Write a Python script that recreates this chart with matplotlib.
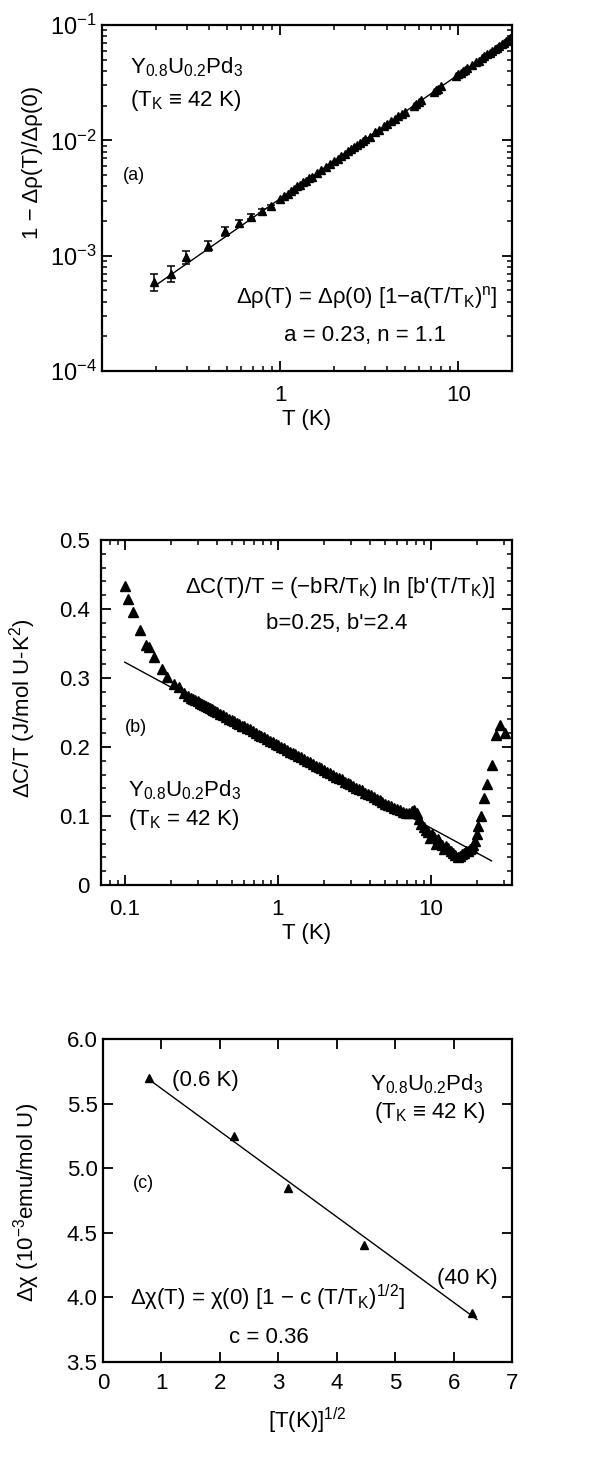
import matplotlib
matplotlib.use('Agg')
import matplotlib.pyplot as plt
from matplotlib.ticker import FixedLocator, LogLocator, NullFormatter, MultipleLocator

plt.rcParams['font.family'] = ['Liberation Sans', 'DejaVu Sans']
plt.rcParams['mathtext.fontset'] = 'custom'
plt.rcParams['mathtext.rm'] = 'Liberation Sans'
plt.rcParams['mathtext.it'] = 'Liberation Sans:italic'
plt.rcParams['mathtext.bf'] = 'Liberation Sans:bold'
plt.rcParams['mathtext.default'] = 'regular'

# ---- (a) resistivity, low T points with error bars
Ta_err = [0.196, 0.245, 0.297, 0.394, 0.493, 0.59, 0.69, 0.79, 0.886]
ya_err = [5.9e-4, 7.0e-4, 9.7e-4, 1.22e-3, 1.63e-3, 1.91e-3, 2.18e-3, 2.43e-3, 2.68e-3]
ea_err = [1.0e-4, 1.1e-4, 1.3e-4, 1.3e-4, 1.4e-4, 1.2e-4, 1.1e-4, 1.0e-4, 1.0e-4]

# (a) dense data 1 - 20 K
Ta = [1.0, 1.05, 1.1, 1.15, 1.2, 1.25, 1.3, 1.35, 1.4, 1.45, 1.5, 1.6, 1.7,
      1.8, 1.9, 2.0, 2.1, 2.2, 2.3, 2.4, 2.5, 2.6, 2.7, 2.8, 2.9, 3.0, 3.2,
      3.4, 3.6, 3.8, 4.0, 4.2, 4.4, 4.6, 4.8, 5.0, 5.6, 5.8, 6.0, 6.2, 7.3,
      7.5, 7.7, 8.0, 9.7, 10.0, 10.3, 10.6, 10.9, 11.2, 12.0, 12.5, 13.0,
      13.5, 14.0, 14.5, 15.0, 15.5, 16.0, 16.5, 17.0, 17.5, 18.0, 18.5, 19.0,
      19.5, 20.0]
ya = [3.10e-3, 3.32e-3, 3.45e-3, 3.66e-3, 3.80e-3, 3.99e-3, 4.12e-3, 4.35e-3,
      4.48e-3, 4.70e-3, 4.82e-3, 5.22e-3, 5.50e-3, 5.93e-3, 6.20e-3, 6.63e-3,
      6.90e-3, 7.35e-3, 7.62e-3, 8.05e-3, 8.35e-3, 8.80e-3, 9.05e-3, 9.52e-3,
      9.80e-3, 1.03e-2, 1.08e-2, 1.18e-2, 1.23e-2, 1.33e-2, 1.38e-2, 1.48e-2,
      1.53e-2, 1.63e-2, 1.68e-2, 1.78e-2, 1.99e-2, 2.08e-2, 2.14e-2, 2.24e-2,
      2.64e-2, 2.74e-2, 2.80e-2, 2.94e-2, 3.60e-2, 3.73e-2, 3.84e-2, 3.98e-2,
      4.08e-2, 4.22e-2, 4.52e-2, 4.75e-2, 4.93e-2, 5.15e-2, 5.34e-2, 5.57e-2,
      5.75e-2, 5.98e-2, 6.16e-2, 6.39e-2, 6.58e-2, 6.82e-2, 7.00e-2, 7.24e-2,
      7.42e-2, 7.65e-2, 7.84e-2]
fit_a_T = [0.198, 20.2]
fit_a_y = [5.48e-4, 7.92e-2]

# ---- (b) specific heat
Tb = [0.100, 0.105, 0.113, 0.126, 0.137, 0.144, 0.156, 0.174, 0.190, 0.210,
      0.226, 0.244, 0.26, 0.27, 0.28, 0.29, 0.30, 0.31, 0.32, 0.33, 0.34,
      0.35, 0.36, 0.37, 0.38, 0.39, 0.40, 0.42, 0.44, 0.46, 0.48, 0.50, 0.52,
      0.54, 0.56, 0.58, 0.60, 0.63, 0.66, 0.69, 0.72, 0.75, 0.78, 0.81, 0.85,
      0.89, 0.93, 0.97, 1.01, 1.05, 1.10, 1.15, 1.20, 1.25, 1.30, 1.36, 1.42,
      1.48, 1.55, 1.62, 1.69, 1.77, 1.85, 1.93, 2.02, 2.11, 2.20, 2.30, 2.40,
      2.51, 2.62, 2.74, 2.86, 2.99, 3.12, 3.26, 3.41, 3.56, 3.72, 3.89, 4.06,
      4.24, 4.43, 4.63, 4.84, 5.06, 5.29, 5.53, 5.78, 6.04, 6.31, 6.59, 6.89,
      7.20, 7.50, 7.80, 8.10, 8.40, 8.70, 9.00, 9.30, 9.60, 9.90, 10.2, 10.5,
      10.8, 11.1, 11.4, 11.8, 12.2, 12.6, 13.0, 13.5, 14.0, 14.5, 15.0, 15.5,
      16.0, 16.5, 17.0, 17.5, 18.0, 18.5, 19.0, 19.5, 20.0, 20.5, 21.2, 22.3,
      23.5, 25.0, 26.6, 28.5, 30.8]
yb = [0.434, 0.414, 0.395, 0.369, 0.348, 0.345, 0.330, 0.313, 0.302, 0.291,
      0.287, 0.278, 0.274, 0.271, 0.269, 0.268, 0.266, 0.264, 0.262, 0.261,
      0.259, 0.258, 0.256, 0.255, 0.253, 0.252, 0.251, 0.248, 0.246, 0.244,
      0.241, 0.239, 0.237, 0.235, 0.233, 0.231, 0.230, 0.228, 0.226, 0.223,
      0.220, 0.218, 0.216, 0.214, 0.211, 0.209, 0.207, 0.205, 0.203, 0.200,
      0.198, 0.196, 0.193, 0.191, 0.190, 0.187, 0.185, 0.183, 0.180, 0.178,
      0.175, 0.173, 0.171, 0.169, 0.166, 0.164, 0.162, 0.159, 0.157, 0.155,
      0.153, 0.150, 0.148, 0.146, 0.144, 0.141, 0.139, 0.137, 0.134, 0.132,
      0.130, 0.128, 0.125, 0.123, 0.121, 0.118, 0.116, 0.114, 0.112, 0.110,
      0.108, 0.106, 0.105, 0.105, 0.107, 0.109, 0.104, 0.096, 0.089, 0.084,
      0.080, 0.077, 0.068, 0.074, 0.070, 0.060, 0.066, 0.062, 0.058, 0.052,
      0.056, 0.053, 0.049, 0.047, 0.043, 0.040, 0.042, 0.045, 0.047, 0.049,
      0.050, 0.052, 0.054, 0.058, 0.064, 0.074, 0.086, 0.100, 0.126, 0.147,
      0.174, 0.217, 0.232, 0.220]
fit_b_T = [0.1, 25.0]
fit_b_y = [0.323, 0.035]

# ---- (c) susceptibility vs sqrt(T)
sqrtT_c = [0.78, 2.24, 3.16, 4.47, 6.32]
chi_c = [5.70, 5.25, 4.85, 4.41, 3.88]
fit_c_x = [0.78, 6.40]
fit_c_y = [5.69, 3.83]

FS = 16


def style_axes(ax):
    for sp in ax.spines.values():
        sp.set_linewidth(1.6)
    ax.tick_params(which='both', direction='in', top=True, right=True,
                   labelsize=FS)
    ax.tick_params(which='major', length=7, width=1.3)
    ax.tick_params(which='minor', length=3.5, width=1.1)


fig = plt.figure(figsize=(5.89, 14.58), dpi=100)

# panel (a)
ax = fig.add_axes([0.1732, 0.7455, 0.6961, 0.2373])
ax.set_xscale('log')
ax.set_yscale('log')
ax.plot(fit_a_T, fit_a_y, color='k', lw=1.0)
ax.errorbar(Ta_err, ya_err, yerr=ea_err, fmt='^', color='k', ms=6,
            capsize=3, elinewidth=1.1, capthick=1.1)
ax.plot(Ta, ya, '^', color='k', ms=6)
ax.set_xlim(0.1, 20)
ax.set_ylim(1e-4, 1e-1)
style_axes(ax)
ax.xaxis.set_major_locator(FixedLocator([0.1, 1, 10]))
ax.set_xticklabels(['', '1', '10'])
ax.xaxis.set_minor_locator(LogLocator(base=10, subs=range(2, 10)))
ax.xaxis.set_minor_formatter(NullFormatter())
ax.yaxis.set_minor_locator(LogLocator(base=10, subs=range(2, 10)))
ax.yaxis.set_minor_formatter(NullFormatter())
ax.tick_params(axis='x', pad=10)
ax.tick_params(axis='y', pad=4, labelsize=17)
ax.set_xlabel('T (K)', fontsize=FS)
ax.xaxis.set_label_coords(0.5, -0.11)
ax.set_ylabel('1 − Δρ(T)/Δρ(0)', fontsize=FS)
ax.yaxis.set_label_coords(-0.144, 0.604)
ax.text(0.068, 0.913, r'Y$_{0.8}$U$_{0.2}$Pd$_3$', transform=ax.transAxes,
        fontsize=FS, va='top', ha='left')
ax.text(0.068, 0.818, r'(T$_K$ ≡ 42 K)', transform=ax.transAxes,
        fontsize=FS, va='top', ha='left')
ax.text(0.051, 0.566, '(a)', transform=ax.transAxes, fontsize=13,
        va='center', ha='left')
ax.text(0.966, 0.214, r'Δρ(T) = Δρ(0) [1−a(T/T$_K$)$^n$]',
        transform=ax.transAxes, fontsize=FS, va='center', ha='right')
ax.text(0.641, 0.104, 'a = 0.23, n = 1.1', transform=ax.transAxes,
        fontsize=FS, va='center', ha='center')

# panel (b)
ax = fig.add_axes([0.1715, 0.3930, 0.6978, 0.2366])
ax.set_xscale('log')
ax.plot(fit_b_T, fit_b_y, color='k', lw=1.0)
ax.plot(Tb, yb, '^', color='k', ms=6.5)
ax.set_xlim(0.07, 34)
ax.set_ylim(0, 0.5)
style_axes(ax)
ax.xaxis.set_major_locator(FixedLocator([0.1, 1, 10]))
ax.set_xticklabels(['0.1', '1', '10'])
ax.xaxis.set_minor_locator(LogLocator(base=10, subs=range(2, 10)))
ax.xaxis.set_minor_formatter(NullFormatter())
ax.set_yticks([0, 0.1, 0.2, 0.3, 0.4, 0.5])
ax.set_yticklabels(['0', '0.1', '0.2', '0.3', '0.4', '0.5'])
ax.yaxis.set_minor_locator(MultipleLocator(0.02))
ax.tick_params(axis='x', pad=10)
ax.tick_params(axis='y', pad=8)
ax.set_xlabel('T (K)', fontsize=FS)
ax.xaxis.set_label_coords(0.5, -0.11)
ax.set_ylabel(r'ΔC/T (J/mol U-K$^2$)', fontsize=FS)
ax.yaxis.set_label_coords(-0.153, 0.513)
ax.text(0.959, 0.861, r"ΔC(T)/T = (−bR/T$_K$) ln [b'(T/T$_K$)]",
        transform=ax.transAxes, fontsize=FS, va='center', ha='right')
ax.text(0.574, 0.759, "b=0.25, b'=2.4", transform=ax.transAxes,
        fontsize=FS, va='center', ha='center')
ax.text(0.058, 0.458, '(b)', transform=ax.transAxes, fontsize=13,
        va='center', ha='left')
ax.text(0.066, 0.310, r'Y$_{0.8}$U$_{0.2}$Pd$_3$', transform=ax.transAxes,
        fontsize=FS, va='top', ha='left')
ax.text(0.066, 0.226, r'(T$_K$ = 42 K)', transform=ax.transAxes,
        fontsize=FS, va='top', ha='left')

# panel (c)
ax = fig.add_axes([0.1749, 0.0658, 0.6944, 0.2215])
ax.plot(fit_c_x, fit_c_y, color='k', lw=1.0)
ax.plot(sqrtT_c, chi_c, '^', color='k', ms=6)
ax.set_xlim(0, 7)
ax.set_ylim(3.5, 6.0)
style_axes(ax)
ax.set_xticks(range(0, 8))
ax.set_yticks([3.5, 4.0, 4.5, 5.0, 5.5, 6.0])
ax.set_yticklabels(['3.5', '4.0', '4.5', '5.0', '5.5', '6.0'])
ax.tick_params(axis='x', pad=8)
ax.tick_params(axis='y', pad=4)
ax.set_xlabel(r'[T(K)]$^{1/2}$', fontsize=FS)
ax.xaxis.set_label_coords(0.5, -0.135)
ax.set_ylabel(r'Δχ (10$^{-3}$emu/mol U)', fontsize=FS)
ax.yaxis.set_label_coords(-0.149, 0.495)
ax.text(1.18, 5.68, '(0.6 K)', fontsize=FS, va='center', ha='left')
ax.text(5.72, 4.15, '(40 K)', fontsize=FS, va='center', ha='left')
ax.text(6.5, 5.745, r'Y$_{0.8}$U$_{0.2}$Pd$_3$', fontsize=FS,
        va='top', ha='right')
ax.text(6.54, 5.53, r'(T$_K$ ≡ 42 K)', fontsize=FS, va='top', ha='right')
ax.text(0.51, 4.885, '(c)', fontsize=13, va='center', ha='left')
ax.text(0.46, 4.0, r'Δχ(T) = χ(0) [1 − c (T/T$_K$)$^{1/2}$]', fontsize=FS,
        va='center', ha='left')
ax.text(2.84, 3.69, 'c = 0.36', fontsize=FS, va='center', ha='center')

fig.savefig('out.png', dpi=100)
